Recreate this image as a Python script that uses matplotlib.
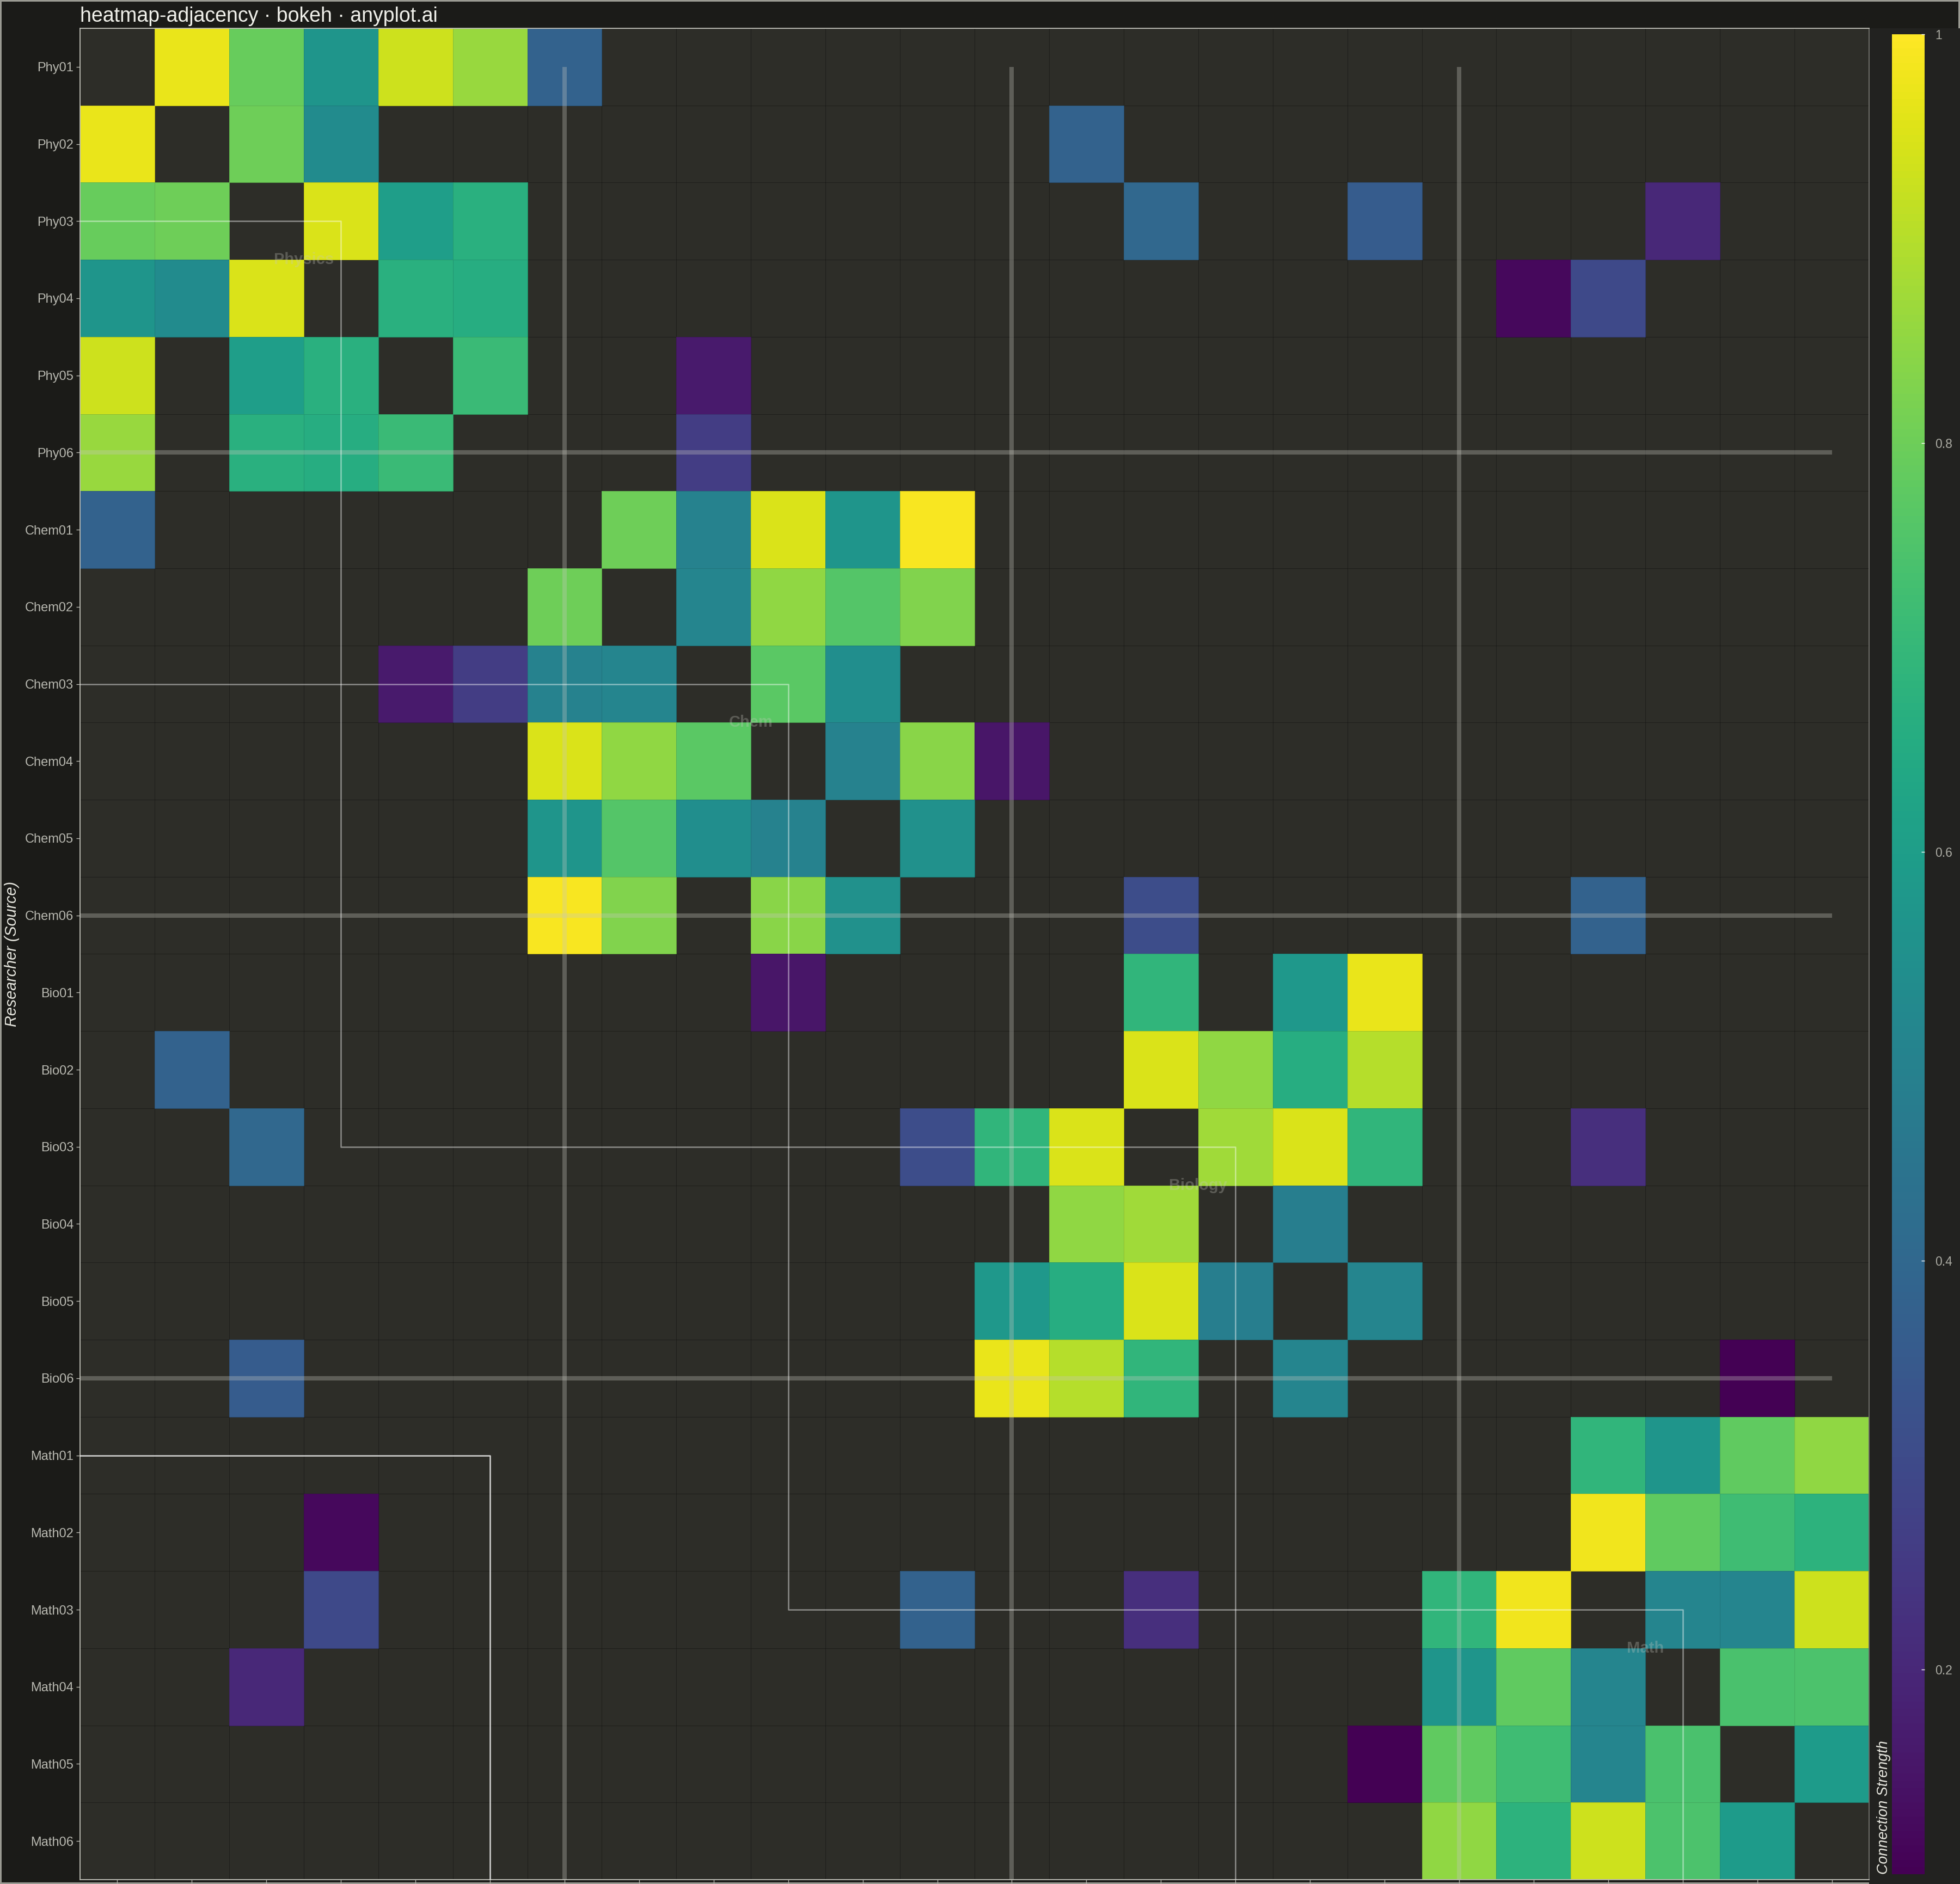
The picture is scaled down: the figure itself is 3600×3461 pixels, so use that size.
import numpy as np
import matplotlib
matplotlib.use('Agg')
from matplotlib import pyplot as plt
from matplotlib.patches import Rectangle

plt.rcParams['font.family'] = ['Liberation Sans', 'DejaVu Sans']

# researchers, in matrix order
researchers = ['Phy01', 'Phy02', 'Phy03', 'Phy04', 'Phy05', 'Phy06',
               'Chem01', 'Chem02', 'Chem03', 'Chem04', 'Chem05', 'Chem06',
               'Bio01', 'Bio02', 'Bio03', 'Bio04', 'Bio05', 'Bio06',
               'Math01', 'Math02', 'Math03', 'Math04', 'Math05', 'Math06']
groups = ['Physics', 'Chem', 'Biology', 'Math']

# undirected collaboration edges (index pairs) and their strength
edge_src = [0, 0, 0, 0, 0, 0, 1, 1, 1, 2, 2, 2, 2, 2, 2, 3, 3, 3, 3, 4, 4, 5,
            6, 6, 6, 6, 6, 7, 7, 7, 7, 8, 8, 9, 9, 9, 10, 11, 11,
            12, 12, 12, 13, 13, 13, 13, 14, 14, 14, 14, 15, 16, 17,
            18, 18, 18, 18, 19, 19, 19, 19, 20, 20, 20, 21, 21, 22]
edge_dst = [1, 2, 3, 4, 5, 6, 2, 3, 13, 3, 4, 5, 14, 17, 21, 4, 5, 19, 20, 5, 8, 8,
            7, 8, 9, 10, 11, 8, 9, 10, 11, 9, 10, 10, 11, 12, 11, 14, 20,
            14, 16, 17, 14, 15, 16, 17, 15, 16, 17, 20, 16, 17, 22,
            20, 21, 22, 23, 20, 21, 22, 23, 21, 22, 23, 22, 23, 23]
edge_w = [0.97, 0.79, 0.57, 0.93, 0.86, 0.38, 0.80, 0.53, 0.38, 0.95, 0.60, 0.67, 0.40, 0.36, 0.20,
          0.67, 0.66, 0.12, 0.30, 0.71, 0.16, 0.26,
          0.80, 0.50, 0.95, 0.57, 0.99, 0.51, 0.85, 0.76, 0.83, 0.77, 0.54, 0.50, 0.84, 0.15,
          0.55, 0.31, 0.38,
          0.69, 0.58, 0.97, 0.95, 0.85, 0.66, 0.90, 0.87, 0.95, 0.69, 0.22, 0.48, 0.51, 0.10,
          0.69, 0.57, 0.78, 0.85, 0.98, 0.78, 0.72, 0.68, 0.51, 0.51, 0.93, 0.74, 0.745, 0.59]

n = len(researchers)
matrix = np.full((n, n), np.nan)
for s, d, w in zip(edge_src, edge_dst, edge_w):
    matrix[s, d] = w
    matrix[d, s] = w

W, H = 3600, 3461
fig = plt.figure(figsize=(W / 100, H / 100), dpi=100)
fig.patch.set_facecolor('#1b1b18')
fig.patch.set_edgecolor('#9a9a92')
fig.patch.set_linewidth(3)

# colorbar side panel (behind everything)
fig.patches.append(Rectangle((3433 / W, 0), 167 / W, (H - 52) / H, transform=fig.transFigure,
                             facecolor='#222220', edgecolor='none', zorder=-5))

ax = fig.add_axes([147 / W, 8 / H, (3433 - 147) / W, (3453 - 52) / H])
ax.set_facecolor('#2d2d28')

edges = np.arange(n + 1)
mesh = ax.pcolormesh(edges, edges, np.ma.masked_invalid(matrix), cmap='viridis', vmin=0.1, vmax=1.0,
                     edgecolors=(0, 0, 0, 0.12), linewidth=0.7, zorder=2)

# faint cell grid
ax.vlines(edges[1:-1], 0, n, color='#292925', lw=1.0, zorder=1)
ax.hlines(edges[1:-1], 0, n, color='#292925', lw=1.0, zorder=1)

# group separators (drawn half a cell off, as in the source)
size = n // len(groups)
for k in range(1, len(groups)):
    ax.plot([k * size + 0.5] * 2, [0.5, n + 0.5], color='#c8c8c0', alpha=0.32, lw=5.8, zorder=3,
            solid_capstyle='butt')
    ax.plot([-0.5, n - 0.5], [k * size - 0.5] * 2, color='#c8c8c0', alpha=0.32, lw=5.8, zorder=3,
            solid_capstyle='butt')

# stepped outlines
ax.plot([-0.5, 3.5, 3.5, 15.5, 15.5], [2.5, 2.5, 14.5, 14.5, 26.5], color='white', alpha=0.45, lw=1.8, zorder=4)
ax.plot([-0.5, 9.5, 9.5, 21.5, 21.5], [8.5, 8.5, 20.5, 20.5, 26.5], color='white', alpha=0.45, lw=1.8, zorder=4)
ax.plot([-0.5, 5.5, 5.5], [18.5, 18.5, 26.5], color='white', alpha=0.8, lw=1.8, zorder=4)

for k, g in enumerate(groups):
    c = k * size + size / 2
    ax.text(c, c, g, ha='center', va='center', fontsize=21, fontweight='bold',
            color='#c8c8c0', alpha=0.3, zorder=5)

ax.set_xlim(0, n)
ax.set_ylim(n, 0)
ticks = np.arange(n) + 0.5
ax.set_yticks(ticks)
ax.set_yticklabels(researchers)
ax.set_xticks(ticks)
ax.tick_params(axis='y', colors='#b8b8b0', labelsize=17, length=5, width=1, pad=3.5)
ax.tick_params(axis='x', colors='#b8b8b0', labelbottom=False, length=6, width=1)
for side in ['left', 'bottom', 'top']:
    ax.spines[side].set_color('#b8b8b0')
    ax.spines[side].set_linewidth(1.4)
ax.spines['right'].set_color('#6e6e68')
ax.spines['right'].set_linewidth(1.4)

# colorbar
cax = fig.add_axes([3475 / W, (H - 3443) / H, 60 / W, (3443 - 63) / H])
cb = fig.colorbar(mesh, cax=cax)
cb.outline.set_visible(False)
cb.set_ticks([0.2, 0.4, 0.6, 0.8, 1.0])
cb.set_ticklabels(['0.2', '0.4', '0.6', '0.8', '1'])
cax.tick_params(direction='in', length=4.5, width=1, color='white', labelcolor='#aaaaa2',
                labelsize=16.5, pad=14)

fig.text(3460 / W, (H - 3443) / H, 'Connection Strength', rotation=90, ha='center', va='bottom',
         fontsize=19.4, style='italic', color='#e8e8e0')
fig.text(22 / W, 1 - 1752 / H, 'Researcher (Source)', rotation=90, ha='center', va='center',
         fontsize=20.7, style='italic', color='#e8e8e0')
fig.text(147 / W, 1 - 40 / H, 'heatmap-adjacency · bokeh · anyplot.ai', ha='left', va='baseline',
         fontsize=27, color='#f0f0ea')

fig.savefig('out.png', dpi=100)
